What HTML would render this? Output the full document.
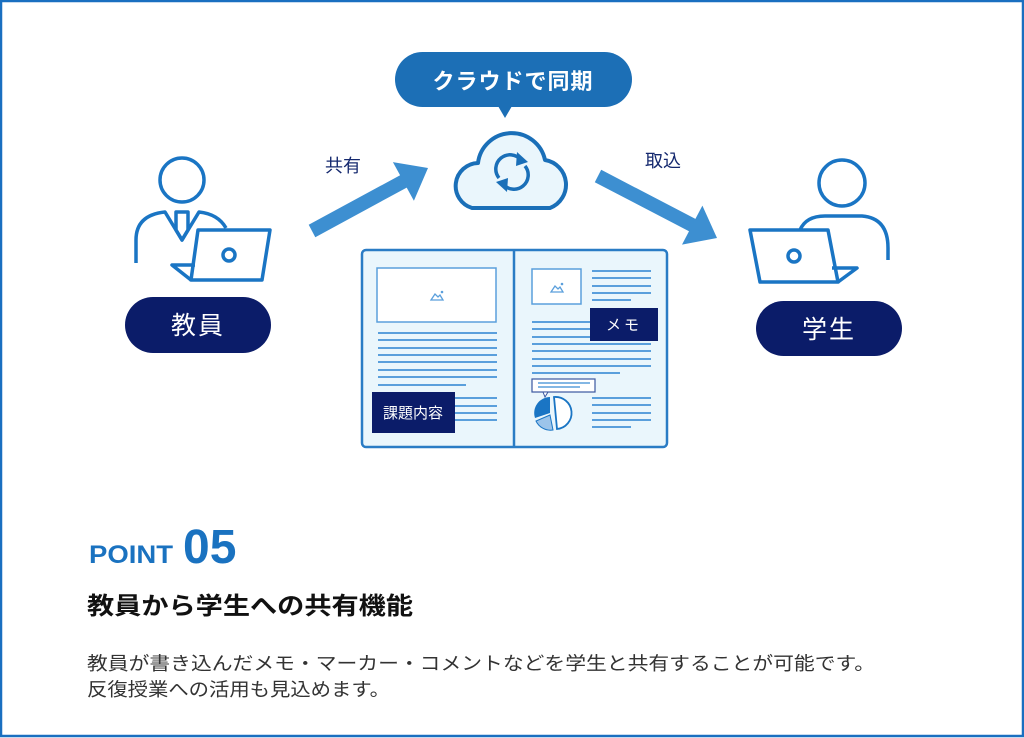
<!DOCTYPE html>
<html><head><meta charset="utf-8"><style>
html,body{margin:0;padding:0;background:#fff}
svg{display:block}
text{font-family:"Liberation Sans","Noto Sans CJK JP",sans-serif}
</style></head><body>
<svg width="1024" height="738" viewBox="0 0 1024 738" xmlns="http://www.w3.org/2000/svg">
<rect x="1" y="1" width="1022" height="735" fill="#fff" stroke="#1a6fc0" stroke-width="2.5"/>

<!-- bubble -->
<rect x="395" y="52" width="237" height="55" rx="27.5" fill="#1c6fb6"/>
<polygon points="498,106 512,106 505,118" fill="#1c6fb6"/>
<text x="513" y="89" text-anchor="middle" font-size="22" font-weight="bold" fill="#fff" letter-spacing="1">クラウドで同期</text>

<!-- cloud -->
<path d="M472,208 A23,23 0 0 1 478,163 A34,34 0 0 1 545,160 A25,25 0 0 1 550,208 Z" fill="#eaf6fc" stroke="#1a6fb8" stroke-width="4" stroke-linejoin="round"/>
<g fill="none" stroke="#1a6fb8" stroke-width="3.5">
<path d="M499,178 A14,14 0 0 1 521,160"/>
<path d="M525,166 A14,14 0 0 1 503,184"/>
</g>
<polygon points="517,152 528,162 516,166" fill="#1a6fb8"/>
<polygon points="507,192 496,182 508,178" fill="#1a6fb8"/>

<!-- arrows -->
<polygon points="308.7,224.8 400.1,175.2 392.9,162.1 428,168 413.9,200.7 406.7,187.6 315.3,237.2" fill="#3d8fd1"/>
<polygon points="601.2,169.8 695.4,218.9 702.4,205.6 717,238 682,244.6 689,231.3 594.8,182.2" fill="#3d8fd1"/>
<text x="325" y="172" font-size="18" fill="#14286e">共有</text>
<text x="645" y="167" font-size="18" fill="#14286e">取込</text>

<!-- teacher -->
<g fill="none" stroke="#1a75c4" stroke-width="3.5" stroke-linejoin="round">
<circle cx="182" cy="180" r="22"/>
<path d="M136,263 V240 Q136,215 165,212 L182,240 L199,212 Q218,214 226,228"/>
<path d="M176,212 H188 V230 L182,240 L176,230 Z"/>
<path d="M198,230 H270 L262,280 H191 Z" fill="#fff"/>
<path d="M191,280 L172,265 H195"/>
<circle cx="229" cy="255" r="6"/>
</g>
<rect x="125" y="297" width="146" height="56" rx="28" fill="#0b1c69"/>
<text x="198" y="334" text-anchor="middle" font-size="25" fill="#fff" letter-spacing="2">教員</text>

<!-- student -->
<g fill="none" stroke="#1a75c4" stroke-width="3.5" stroke-linejoin="round">
<circle cx="842" cy="183" r="23"/>
<path d="M800,230 Q806,216 825,216 H862 Q888,218 888,248 V260"/>
<path d="M750,230 H828 L838,282 H760 Z" fill="#fff"/>
<path d="M838,282 L857,268 H832"/>
<circle cx="794" cy="256" r="6"/>
</g>
<rect x="756" y="301" width="146" height="55" rx="27.5" fill="#0b1c69"/>
<text x="829" y="338" text-anchor="middle" font-size="25" fill="#fff" letter-spacing="2">学生</text>

<!-- book -->
<rect x="362" y="250" width="305" height="197" rx="4" fill="#eaf6fc" stroke="#2a7cc5" stroke-width="2.5"/>
<line x1="514" y1="250" x2="514" y2="447" stroke="#2a7cc5" stroke-width="2.5"/>
<rect x="377" y="268" width="119" height="54" fill="#fff" stroke="#5a9fdc" stroke-width="1.5"/>
<path d="M431,300 L435,294 L438,297 L440,295 L443,300 Z" fill="none" stroke="#5a9fdc" stroke-width="1.3"/>
<circle cx="442" cy="292" r="1.3" fill="#5a9fdc"/>
<g stroke="#5a9fdc" stroke-width="2">
<line x1="378" y1="333" x2="497" y2="333"/><line x1="378" y1="340" x2="497" y2="340"/>
<line x1="378" y1="348" x2="497" y2="348"/><line x1="378" y1="355" x2="497" y2="355"/>
<line x1="378" y1="362" x2="497" y2="362"/><line x1="378" y1="370" x2="497" y2="370"/>
<line x1="378" y1="377" x2="497" y2="377"/><line x1="378" y1="385" x2="466" y2="385"/>
<line x1="455" y1="398" x2="497" y2="398"/><line x1="455" y1="406" x2="497" y2="406"/>
<line x1="455" y1="413" x2="497" y2="413"/><line x1="455" y1="420" x2="497" y2="420"/>
</g>
<rect x="372" y="392" width="83" height="41" fill="#0b1c69"/>
<text x="413" y="418" text-anchor="middle" font-size="15" fill="#fff">課題内容</text>

<rect x="532" y="269" width="49" height="35" fill="#fff" stroke="#5a9fdc" stroke-width="1.5"/>
<path d="M551,292 L555,286 L558,289 L560,287 L563,292 Z" fill="none" stroke="#5a9fdc" stroke-width="1.3"/>
<circle cx="562" cy="284" r="1.3" fill="#5a9fdc"/>
<g stroke="#5a9fdc" stroke-width="2">
<line x1="592" y1="271" x2="651" y2="271"/><line x1="592" y1="278" x2="651" y2="278"/>
<line x1="592" y1="286" x2="651" y2="286"/><line x1="592" y1="293" x2="651" y2="293"/>
<line x1="592" y1="300" x2="631" y2="300"/>
<line x1="532" y1="322" x2="600" y2="322"/><line x1="532" y1="329" x2="600" y2="329"/>
<line x1="532" y1="337" x2="600" y2="337"/>
<line x1="532" y1="344" x2="651" y2="344"/><line x1="532" y1="351" x2="651" y2="351"/>
<line x1="532" y1="359" x2="651" y2="359"/><line x1="532" y1="366" x2="651" y2="366"/>
<line x1="532" y1="373" x2="620" y2="373"/>
<line x1="592" y1="398" x2="651" y2="398"/><line x1="592" y1="405" x2="651" y2="405"/>
<line x1="592" y1="413" x2="651" y2="413"/><line x1="592" y1="420" x2="651" y2="420"/>
<line x1="592" y1="427" x2="631" y2="427"/>
</g>
<rect x="590" y="308" width="68" height="33" fill="#0b1c69"/>
<text x="624" y="330" text-anchor="middle" font-size="15" fill="#fff" letter-spacing="3">メモ</text>
<rect x="532" y="379" width="63" height="13" fill="#fff" stroke="#3b57a0" stroke-width="1.2"/>
<polygon points="543,392 548,392 545,397" fill="#fff" stroke="#3b57a0" stroke-width="1"/>
<line x1="538" y1="383" x2="590" y2="383" stroke="#5a9fdc" stroke-width="1.5"/>
<line x1="538" y1="387" x2="580" y2="387" stroke="#5a9fdc" stroke-width="1.5"/>
<path d="M554,397 A16,16 0 0 1 557,429 Z" fill="#fff" stroke="#1a75c4" stroke-width="1.8"/>
<path d="M550,413 L550,397 A16,16 0 0 0 535,418 Z" fill="#1a75c4"/>
<path d="M550,415 L536,421 A16,16 0 0 0 553,430 Z" fill="#9cc4ea" stroke="#1a75c4" stroke-width="1"/>

<!-- text -->
<text x="89" y="563" font-size="25" font-weight="bold" fill="#1a72c0" textLength="84" lengthAdjust="spacingAndGlyphs">POINT</text>
<text x="183" y="563" font-size="48" font-weight="bold" fill="#1a72c0">05</text>
<text x="87" y="614" font-size="24" font-weight="bold" fill="#111" textLength="326" lengthAdjust="spacingAndGlyphs">教員から学生への共有機能</text>
<text x="87" y="670" font-size="18.5" fill="#333" textLength="788" lengthAdjust="spacingAndGlyphs">教員が書き込んだメモ・マーカー・コメントなどを学生と共有することが可能です。</text>
<text x="87" y="696" font-size="18.5" fill="#333" textLength="303" lengthAdjust="spacingAndGlyphs">反復授業への活用も見込めます。</text>
</svg>
</body></html>
